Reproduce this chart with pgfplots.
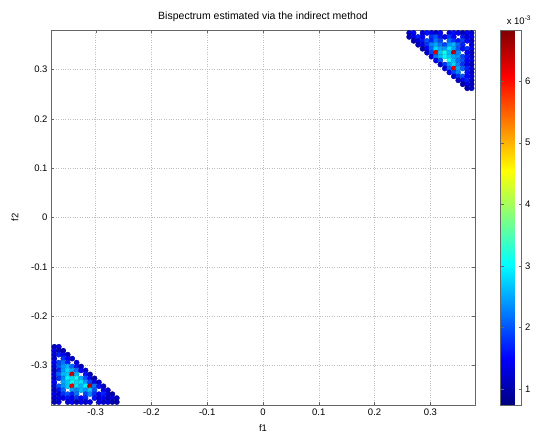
\documentclass[border=0pt]{standalone}
\usepackage{fontspec}
\setmainfont{Liberation Sans}
\usepackage{pgfplots}
\usepackage{pgfplotstable}
\pgfplotsset{compat=1.18}

% bispectrum magnitude (x 1e-3), upper right blob
\pgfplotstableread[row sep=\\]{
x y c\\
0.262 0.374 1.2\\ 0.270 0.374 1.5\\ 0.286 0.374 1.3\\ 0.294 0.374 1.6\\ 0.302 0.374 1.4\\ 0.310 0.374 1.2\\ 0.318 0.374 1.5\\ 0.334 0.374 1.3\\ 0.342 0.374 1.6\\ 0.350 0.374 1.4\\ 0.358 0.374 1.1\\ 0.366 0.374 1.5\\ 0.374 0.374 1.2\\
0.262 0.366 1.1\\ 0.270 0.366 1.4\\ 0.278 0.366 1.7\\ 0.286 0.366 1.5\\ 0.302 0.366 1.8\\ 0.310 0.366 2.0\\ 0.318 0.366 1.6\\ 0.326 0.366 1.4\\ 0.334 0.366 1.8\\ 0.342 0.366 1.5\\ 0.358 0.366 1.6\\ 0.366 0.366 1.3\\ 0.374 0.366 1.4\\
0.270 0.358 1.0\\ 0.278 0.358 1.3\\ 0.286 0.358 1.6\\ 0.294 0.358 2.0\\ 0.302 0.358 1.7\\ 0.310 0.358 2.2\\ 0.318 0.358 1.9\\ 0.334 0.358 2.1\\ 0.342 0.358 1.8\\ 0.350 0.358 1.6\\ 0.358 0.358 1.9\\ 0.366 0.358 1.5\\ 0.374 0.358 1.2\\
0.278 0.350 1.1\\ 0.286 0.350 1.4\\ 0.294 0.350 1.8\\ 0.302 0.350 2.3\\ 0.310 0.350 2.5\\ 0.318 0.350 2.2\\ 0.326 0.350 1.9\\ 0.334 0.350 2.4\\ 0.342 0.350 2.6\\ 0.350 0.350 2.1\\ 0.358 0.350 1.7\\ 0.374 0.350 1.3\\
0.286 0.342 1.0\\ 0.294 0.342 1.5\\ 0.302 0.342 2.1\\ 0.310 0.342 2.8\\ 0.318 0.342 2.5\\ 0.326 0.342 2.4\\ 0.334 0.342 2.9\\ 0.342 0.342 2.5\\ 0.350 0.342 2.0\\ 0.358 0.342 1.6\\ 0.366 0.342 1.8\\ 0.374 0.342 1.4\\
0.294 0.334 1.2\\ 0.302 0.334 1.9\\ 0.310 0.334 6.3\\ 0.318 0.334 2.7\\ 0.326 0.334 3.1\\ 0.334 0.334 2.6\\ 0.342 0.334 6.5\\ 0.350 0.334 2.3\\ 0.366 0.334 1.5\\ 0.374 0.334 1.1\\
0.302 0.326 1.3\\ 0.310 0.326 2.2\\ 0.318 0.326 2.6\\ 0.326 0.326 3.0\\ 0.334 0.326 2.7\\ 0.342 0.326 2.5\\ 0.350 0.326 2.4\\ 0.358 0.326 1.9\\ 0.366 0.326 1.6\\ 0.374 0.326 1.2\\
0.310 0.318 1.4\\ 0.318 0.318 2.0\\ 0.334 0.318 3.1\\ 0.342 0.318 2.6\\ 0.350 0.318 2.2\\ 0.358 0.318 2.0\\ 0.366 0.318 1.5\\ 0.374 0.318 1.3\\
0.318 0.310 1.2\\ 0.326 0.310 1.8\\ 0.334 0.310 2.4\\ 0.342 0.310 2.8\\ 0.350 0.310 2.3\\ 0.358 0.310 1.8\\ 0.366 0.310 1.4\\ 0.374 0.310 1.1\\
0.326 0.302 1.3\\ 0.334 0.302 2.1\\ 0.342 0.302 6.2\\ 0.350 0.302 2.5\\ 0.358 0.302 2.1\\ 0.366 0.302 1.7\\ 0.374 0.302 1.3\\
0.334 0.294 1.4\\ 0.342 0.294 1.9\\ 0.350 0.294 2.3\\ 0.366 0.294 1.6\\ 0.374 0.294 1.2\\
0.342 0.286 1.2\\ 0.350 0.286 1.8\\ 0.358 0.286 2.0\\ 0.366 0.286 1.5\\ 0.374 0.286 1.3\\
0.350 0.278 1.1\\ 0.358 0.278 1.5\\ 0.366 0.278 1.7\\ 0.374 0.278 1.2\\
0.358 0.270 1.0\\ 0.366 0.270 1.4\\ 0.374 0.270 1.1\\
0.366 0.262 1.0\\ 0.374 0.262 1.2\\
}\upperblob

% lower left blob
\pgfplotstableread[row sep=\\]{
x y c\\
-0.374 -0.262 1.1\\ -0.366 -0.262 1.3\\
-0.374 -0.270 1.4\\ -0.366 -0.270 1.2\\ -0.358 -0.270 1.0\\
-0.374 -0.278 1.3\\ -0.366 -0.278 1.7\\ -0.358 -0.278 1.4\\ -0.350 -0.278 1.1\\
-0.374 -0.286 1.2\\ -0.358 -0.286 1.8\\ -0.350 -0.286 1.5\\ -0.342 -0.286 1.2\\
-0.374 -0.294 1.5\\ -0.366 -0.294 1.9\\ -0.358 -0.294 2.2\\ -0.350 -0.294 1.7\\ -0.334 -0.294 1.3\\
-0.374 -0.302 1.3\\ -0.366 -0.302 2.0\\ -0.358 -0.302 2.4\\ -0.350 -0.302 2.6\\ -0.342 -0.302 2.1\\ -0.334 -0.302 1.6\\ -0.326 -0.302 1.1\\
-0.374 -0.310 1.1\\ -0.366 -0.310 1.7\\ -0.358 -0.310 2.4\\ -0.350 -0.310 2.8\\ -0.342 -0.310 2.5\\ -0.334 -0.310 2.2\\ -0.326 -0.310 1.5\\ -0.318 -0.310 1.2\\
-0.374 -0.318 1.4\\ -0.366 -0.318 2.1\\ -0.358 -0.318 2.6\\ -0.350 -0.318 2.7\\ -0.342 -0.318 6.4\\ -0.334 -0.318 2.6\\ -0.318 -0.318 1.6\\ -0.310 -0.318 1.1\\
-0.374 -0.326 1.2\\ -0.366 -0.326 1.8\\ -0.358 -0.326 2.3\\ -0.350 -0.326 3.0\\ -0.342 -0.326 2.8\\ -0.334 -0.326 3.1\\ -0.326 -0.326 2.5\\ -0.318 -0.326 2.0\\ -0.310 -0.326 1.5\\ -0.302 -0.326 1.0\\
-0.374 -0.334 1.5\\ -0.358 -0.334 2.5\\ -0.350 -0.334 2.7\\ -0.342 -0.334 3.1\\ -0.334 -0.334 2.8\\ -0.326 -0.334 2.9\\ -0.318 -0.334 2.4\\ -0.310 -0.334 1.9\\ -0.302 -0.334 1.4\\ -0.294 -0.334 1.2\\
-0.374 -0.342 1.3\\ -0.366 -0.342 2.0\\ -0.358 -0.342 2.4\\ -0.350 -0.342 2.7\\ -0.342 -0.342 6.2\\ -0.334 -0.342 2.9\\ -0.326 -0.342 2.6\\ -0.318 -0.342 3.0\\ -0.310 -0.342 6.5\\ -0.302 -0.342 2.2\\ -0.294 -0.342 1.6\\ -0.286 -0.342 1.1\\
-0.374 -0.350 1.1\\ -0.366 -0.350 1.6\\ -0.358 -0.350 2.1\\ -0.342 -0.350 2.5\\ -0.334 -0.350 2.3\\ -0.326 -0.350 2.6\\ -0.318 -0.350 2.4\\ -0.310 -0.350 2.7\\ -0.302 -0.350 2.0\\ -0.286 -0.350 1.4\\ -0.278 -0.350 1.2\\
-0.374 -0.358 1.4\\ -0.366 -0.358 1.3\\ -0.358 -0.358 1.8\\ -0.350 -0.358 2.0\\ -0.342 -0.358 1.7\\ -0.334 -0.358 2.2\\ -0.318 -0.358 1.9\\ -0.310 -0.358 2.3\\ -0.302 -0.358 1.8\\ -0.294 -0.358 1.5\\ -0.286 -0.358 1.7\\ -0.278 -0.358 1.3\\ -0.270 -0.358 1.0\\
-0.374 -0.366 1.2\\ -0.366 -0.366 1.5\\ -0.358 -0.366 1.3\\ -0.350 -0.366 1.6\\ -0.342 -0.366 1.4\\ -0.334 -0.366 1.8\\ -0.326 -0.366 1.5\\ -0.318 -0.366 1.7\\ -0.302 -0.366 1.6\\ -0.294 -0.366 1.3\\ -0.286 -0.366 1.5\\ -0.278 -0.366 1.1\\ -0.270 -0.366 1.4\\ -0.262 -0.366 1.2\\
-0.374 -0.374 1.0\\ -0.366 -0.374 1.3\\ -0.350 -0.374 1.2\\ -0.342 -0.374 1.5\\ -0.334 -0.374 1.1\\ -0.326 -0.374 1.4\\ -0.318 -0.374 1.2\\ -0.310 -0.374 1.3\\ -0.294 -0.374 1.4\\ -0.286 -0.374 1.2\\ -0.278 -0.374 1.3\\ -0.270 -0.374 1.1\\ -0.262 -0.374 1.0\\
}\lowerblob

\begin{document}
\begin{tikzpicture}
\path[use as bounding box] (0,0) rectangle (541pt,437pt);
\begin{axis}[
  at={(51pt,32pt)}, anchor=south west,
  scale only axis, width=424pt, height=375pt,
  xmin=-0.38, xmax=0.38, ymin=-0.38, ymax=0.38,
  xtick={-0.3,-0.2,-0.1,0,0.1,0.2,0.3},
  ytick={-0.3,-0.2,-0.1,0,0.1,0.2,0.3},
  /pgf/number format/assume math mode=true,
  /pgf/number format/fixed,
  font=\fontsize{9.5}{11}\selectfont,
  grid=major, grid style={dotted, black!25},
  tick align=inside, major tick length=3pt,
  axis line style={black!60}, tick style={black!60},
  title={Bispectrum estimated via the indirect method},
  title style={anchor=center, yshift=7pt, font=\fontsize{10.5}{12}\selectfont},
  xlabel={f1}, ylabel={f2},
  xlabel style={at={(axis description cs:0.5,-0.061)}, anchor=center},
  ylabel style={at={(axis description cs:-0.085,0.5)}, anchor=center},
  colormap/jet,
  point meta min=0.74, point meta max=6.83,
  colorbar,
  colorbar style={
    at={(parent axis.north east)}, anchor=north west, xshift=17pt,
    width=21pt,
    ytick={1,2,3,4,5,6},
    tick align=inside, major tick length=3pt,
    axis line style={black!60}, tick style={black!60},
    /pgf/number format/assume math mode=true,
    yticklabel style={font=\fontsize{9.5}{11}\selectfont},
  },
]
\addplot[scatter, only marks, mark=*, mark size=2.6pt, point meta=explicit]
  table[x=x, y=y, meta=c] {\upperblob};
\addplot[scatter, only marks, mark=*, mark size=2.6pt, point meta=explicit]
  table[x=x, y=y, meta=c] {\lowerblob};
\end{axis}
\node[font=\fontsize{9.5}{11}\selectfont, anchor=center] at (519pt,417pt) {x 10\textsuperscript{-3}};
\end{tikzpicture}
\end{document}
